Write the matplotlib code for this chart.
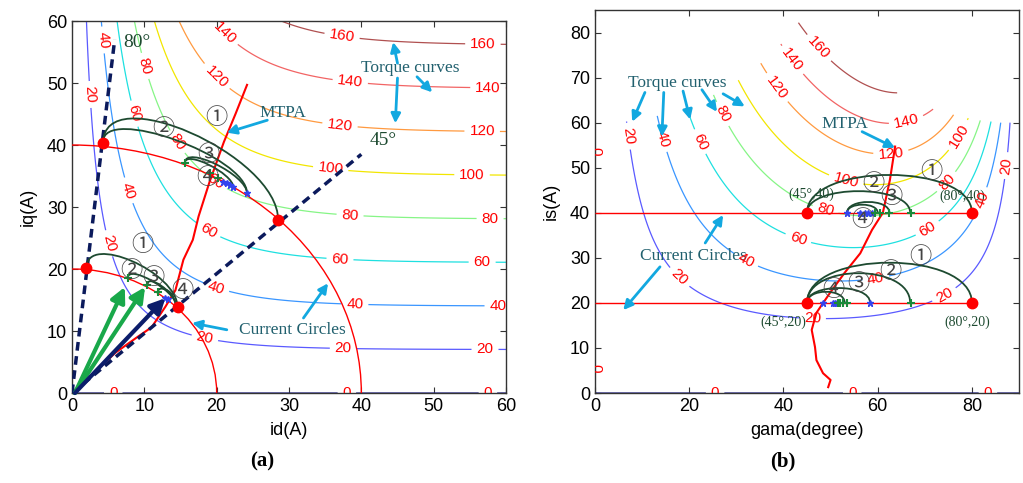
import numpy as np
import matplotlib.pyplot as plt
from matplotlib.path import Path
from matplotlib.patches import PathPatch, Arc

plt.rcParams['font.family'] = ['Liberation Sans', 'DejaVu Sans']

# torque map:  T = k_t * iq * tanh(id / i_sat), map limited to id, iq <= 60 A
k_t = 2.85
i_sat = 17.0
i_max = 60.0
levels = [0, 20, 40, 60, 80, 100, 120, 140, 160]
level_colors = ['#1c1c8c', '#5a5aff', '#3a96ff', '#1ee0e0', '#86f586',
                '#f2e600', '#ff9a40', '#f26464', '#b05050']

# current circles (A)
circle_r = [20, 40]

# MTPA trajectory, panel (a): id, iq
mtpa_id = [0.4, 3.0, 6.0, 9.0, 11.0, 12.9, 14.3, 15.4, 16.7, 17.5, 19.0, 21.0, 22.6, 24.2]
mtpa_iq = [0.0, 3.2, 6.5, 9.0, 10.6, 13.9, 16.6, 21.5, 24.7, 28.5, 34.0, 40.5, 45.0, 49.7]
# MTPA trajectory, panel (b): gamma, is
mtpa_g = [49.5, 50.0, 48.4, 47.0, 46.7, 46.0, 47.0, 50.0, 53.0, 56.3, 58.8, 61.1, 62.6, 63.7]
mtpa_is = [1.3, 2.9, 4.4, 7.3, 10.2, 14.0, 17.8, 22.4, 26.7, 31.0, 36.2, 40.0, 47.3, 54.7]

# starting points (red dots)
dots_id = [2.0, 4.3, 14.6, 28.5]
dots_iq = [20.2, 40.3, 13.8, 27.9]
dots_g = [45, 80, 45, 80]
dots_is = [40, 40, 20, 20]

# 80 deg and 45 deg lines, panel (a)
ray80_id = [0, 5.9]
ray80_iq = [0, 57.0]
ray45_id = [0, 40.0]
ray45_iq = [0, 38.5]

# search arcs: x0, y0, x1, y1, lift
arcs_a = [(4.3, 40.3, 28.5, 27.9, 10.5), (4.3, 40.5, 24.2, 32.2, 6.0),
          (15.6, 37.1, 24.2, 32.2, 3.0), (15.6, 37.1, 22.3, 33.2, 2.2),
          (2.0, 20.2, 14.6, 13.8, 5.7), (7.7, 18.5, 14.6, 13.8, 2.5),
          (10.4, 17.4, 14.3, 14.2, 2.0), (11.9, 16.3, 14.0, 15.3, 1.2)]
arcs_b = [(45, 40, 80, 40, 11.2), (45, 40, 66.9, 40, 6.4),
          (53.5, 40, 62.5, 40, 3.2), (53.5, 40, 60.0, 40, 2.4),
          (45, 20, 80, 20, 11.9), (45, 20, 66.9, 20, 8.8),
          (45, 20, 58.4, 20, 4.4), (45, 20, 53.0, 20, 3.3)]

# circled step numbers
steps = ['①', '②', '③', '④']
steps_a = [(20.0, 44.5), (12.6, 42.7), (18.8, 38.4), (18.7, 34.8),
           (9.7, 23.9), (8.2, 19.8), (11.2, 18.7), (15.2, 16.6)]
steps_b = [(71.5, 49.2), (59.0, 46.6), (63.0, 43.6), (56.7, 38.6),
           (69.0, 30.4), (62.7, 26.9), (56.0, 24.4), (50.6, 22.9)]

# search points
star_a_id = [20.9, 21.4, 21.8, 22.3, 24.2, 12.9, 13.3]
star_a_iq = [34.0, 33.8, 33.5, 33.2, 32.2, 15.3, 15.1]
plus_a_id = [15.6, 19.1, 20.2, 7.7, 10.4, 11.9]
plus_a_iq = [37.1, 35.5, 34.7, 18.5, 17.4, 16.3]
star_b_g = [53.5, 56.3, 57.3, 58.0, 58.8, 48.4, 50.5, 51.0, 51.4, 58.4]
star_b_is = [40, 40, 40, 40, 40, 20, 20, 20, 20, 20]
plus_b_g = [59.5, 60.6, 62.5, 67.0, 51.6, 52.0, 52.7, 53.5, 67.0]
plus_b_is = [40, 40, 40, 40, 20, 20, 20, 20, 20]

# vectors from origin (a)
vec_id = [7.3, 10.1, 12.9]
vec_iq = [17.1, 17.1, 15.3]
vec_col = ['#19a84a', '#19a84a', '#0c1d6b']

# contour label spots
clab_a = [(37.3, 57.3), (56.8, 55.3), (19.8, 56.6), (38.4, 49.5), (57.5, 48.1),
          (18.4, 49.2), (37, 42.7), (56.7, 41.3), (16, 41.6), (35.7, 35.5), (55.3, 34.4),
          (9.6, 52.6), (18.4, 31.6), (38.4, 27.9), (57.8, 27.6),
          (7.8, 44.8), (17.7, 23.9), (37, 20.6), (56.7, 20.3),
          (3.9, 56.9), (6.8, 32.3), (19.5, 15.5), (39.1, 13.9), (58.9, 14.2),
          (1.8, 48.1), (4.3, 23.9), (18.1, 7.4), (37.5, 6.6), (57.1, 7.3),
          (5.7, 0), (38, 0), (57.5, 0)]
clab_b = [(6.4, 56.9), (13.8, 56.2), (21.7, 55.5), (26.1, 61.4), (37.6, 67), (41, 73.2),
          (46.7, 75.8), (66.4, 58.9), (63, 51.1), (78.1, 56.6), (52.7, 45.1), (48.4, 38.9),
          (76, 45.5), (83.2, 42.4), (88.7, 50.3), (42.5, 32.3), (71.8, 34.4), (59.9, 23.3),
          (74.7, 20.7), (46.1, 14.7), (17, 24.7), (31.2, 27.8),
          (25.5, 0), (54.6, 0), (83.4, 0), (0.4, 5.5), (0.6, 53.6)]

teal = '#21606e'
dgreen = '#1d4a30'
cyan = '#12a8e0'
serif = 'Liberation Serif'
circ_font = ['Noto Sans CJK JP', 'DejaVu Sans']


def draw_arc(ax, x0, y0, x1, y1, lift):
    verts = [(x0, y0), (x0, y0 + lift), (x1, y1 + lift), (x1, y1)]
    codes = [Path.MOVETO, Path.CURVE4, Path.CURVE4, Path.CURVE4]
    ax.add_patch(PathPatch(Path(verts, codes), fill=False, ec=dgreen, lw=1.3, zorder=4))


def arrow(ax, tail, head, col=cyan, lw=2.0, ms=14):
    ax.annotate('', xy=head, xytext=tail,
                arrowprops=dict(arrowstyle='-|>', color=col, lw=lw, mutation_scale=ms,
                                shrinkA=0, shrinkB=0), zorder=6)


def style(ax):
    ax.tick_params(direction='in', top=True, right=True, labelsize=13, length=4, color='#333333')
    for s in ax.spines.values():
        s.set_color('#333333')
        s.set_linewidth(1.0)


fig = plt.figure(figsize=(10.23, 4.83), dpi=100)
ax1 = fig.add_axes([0.0704, 0.1863, 0.4242, 0.7702])
ax2 = fig.add_axes([0.5816, 0.1863, 0.4145, 0.793])

# ---------- (a) id-iq plane ----------
idv = np.linspace(0, i_max, 301)
iqv = np.linspace(0, i_max, 301)
ID, IQ = np.meshgrid(idv, iqv)
T = k_t * IQ * np.tanh(ID / i_sat)
cs = ax1.contour(ID, IQ, T, levels=levels, colors=level_colors, linewidths=0.9)
ax1.clabel(cs, manual=clab_a, inline=True, fontsize=11, colors='red', fmt='%d')

for r in circle_r:
    ax1.add_patch(Arc((0, 0), 2 * r, 2 * r, theta1=0, theta2=90, color='red', lw=1.0, zorder=3))
ax1.plot(mtpa_id, mtpa_iq, color='red', lw=1.5, zorder=3)
ax1.plot(ray80_id, ray80_iq, color='#0b1a5c', lw=2.5, ls=(0, (2.5, 1.6)), zorder=4)
ax1.plot(ray45_id, ray45_iq, color='#0b1a5c', lw=2.5, ls=(0, (2.5, 1.6)), zorder=4)
for a in arcs_a:
    draw_arc(ax1, *a)
ax1.plot(star_a_id, star_a_iq, '*', color='#3344ee', ms=5, zorder=5)
ax1.plot(plus_a_id, plus_a_iq, '+', color='#1a8a3a', ms=6, mew=1.5, zorder=5)
for x, y, c in zip(vec_id, vec_iq, vec_col):
    arrow(ax1, (0.4, 0.0), (x, y), col=c, lw=3, ms=22)
ax1.plot(dots_id, dots_iq, 'o', color='red', ms=7.5, zorder=7)
for k, (x, y) in enumerate(steps_a):
    ax1.text(x, y, steps[k % 4], fontsize=16, color='#444444', ha='center', va='center',
             family=circ_font, zorder=6)

ax1.text(9.0, 56.6, '80°', family=serif, fontsize=14, color=dgreen, ha='center', va='center')
ax1.text(43.0, 40.8, '45°', family=serif, fontsize=14, color=dgreen, ha='center', va='center')
ax1.text(29.2, 45.1, 'MTPA', family=serif, fontsize=12.5, color=teal, ha='center', va='center')
arrow(ax1, (27.0, 44.0), (21.4, 42.0))
ax1.text(46.8, 52.4, 'Torque curves', family=serif, fontsize=12.5, color=teal, ha='center', va='center')
arrow(ax1, (45.0, 53.2), (44.4, 56.6))
arrow(ax1, (45.0, 50.8), (44.7, 43.5))
arrow(ax1, (47.7, 51.0), (49.8, 48.5))
ax1.text(30.4, 10.2, 'Current Circles', family=serif, fontsize=12.5, color=teal, ha='center', va='center')
arrow(ax1, (21.4, 10.2), (16.6, 11.3))
arrow(ax1, (32.0, 12.1), (35.4, 17.7))

ax1.set_xlim(0, 60)
ax1.set_ylim(0, 60)
ax1.set_xticks(range(0, 61, 10))
ax1.set_yticks(range(0, 61, 10))
ax1.set_xlabel('id(A)', fontsize=13, labelpad=5)
ax1.set_ylabel('iq(A)', fontsize=13, labelpad=7)
style(ax1)

# ---------- (b) gamma-is plane ----------
gv = np.linspace(0, 90, 361)
isv = np.linspace(0, 85, 341)
G, IS = np.meshgrid(gv, isv)
IDb = IS * np.cos(np.radians(G))
IQb = IS * np.sin(np.radians(G))
Tb = k_t * IQb * np.tanh(IDb / i_sat)
Tb = np.ma.masked_where((IDb > i_max) | (IQb > i_max), Tb)
cs2 = ax2.contour(G, IS, Tb, levels=levels, colors=level_colors, linewidths=0.9)
ax2.clabel(cs2, manual=clab_b, inline=True, fontsize=11, colors='red', fmt='%d')

ax2.hlines(circle_r, 0, 80, color='red', lw=1.0, zorder=3)
ax2.plot(mtpa_g, mtpa_is, color='red', lw=1.5, zorder=3)
for a in arcs_b:
    draw_arc(ax2, *a)
ax2.plot(star_b_g, star_b_is, '*', color='#3344ee', ms=5, zorder=5)
ax2.plot(plus_b_g, plus_b_is, '+', color='#1a8a3a', ms=6, mew=1.5, zorder=5)
ax2.plot(dots_g, dots_is, 'o', color='red', ms=7.5, zorder=7)
for k, (x, y) in enumerate(steps_b):
    ax2.text(x, y, steps[k % 4], fontsize=16, color='#444444', ha='center', va='center',
             family=circ_font, zorder=6)

ax2.text(46.0, 44.0, '(45°,40)', family=serif, fontsize=10, color=dgreen, ha='center', va='center')
ax2.text(78.0, 43.6, '(80°,40)', family=serif, fontsize=10, color=dgreen, ha='center', va='center')
ax2.text(40.0, 15.8, '(45°,20)', family=serif, fontsize=10, color=dgreen, ha='center', va='center')
ax2.text(79.0, 15.8, '(80°,20)', family=serif, fontsize=10, color=dgreen, ha='center', va='center')

ax2.text(17.4, 68.9, 'Torque curves', family=serif, fontsize=12.5, color=teal, ha='center', va='center')
arrow(ax2, (10.6, 66.7), (7.9, 60.2))
arrow(ax2, (14.6, 66.7), (14.2, 56.9))
arrow(ax2, (18.7, 67.0), (20.2, 60.7))
arrow(ax2, (22.7, 67.3), (25.9, 62.4))
arrow(ax2, (27.2, 66.4), (31.8, 63.6))
ax2.text(53.0, 59.8, 'MTPA', family=serif, fontsize=12.5, color=teal, ha='center', va='center')
arrow(ax2, (56.7, 58.0), (63.7, 54.4))
ax2.text(20.8, 30.4, 'Current Circles', family=serif, fontsize=12.5, color=teal, ha='center', va='center')
arrow(ax2, (13.8, 28.0), (6.0, 18.4))
arrow(ax2, (23.4, 33.3), (27.2, 39.5))

ax2.set_xlim(0, 90)
ax2.set_ylim(0, 85)
ax2.set_xticks(range(0, 81, 20))
ax2.set_yticks(range(0, 81, 10))
ax2.set_xlabel('gama(degree)', fontsize=13, labelpad=5)
ax2.set_ylabel('is(A)', fontsize=13, labelpad=7)
style(ax2)

fig.text(262 / 1023, 1 - 461 / 483, '(a)', family=serif, fontweight='bold', fontsize=15,
         ha='center', va='center')
fig.text(783 / 1023, 1 - 461 / 483, '(b)', family=serif, fontweight='bold', fontsize=15,
         ha='center', va='center')

fig.savefig('out.png', dpi=100)
